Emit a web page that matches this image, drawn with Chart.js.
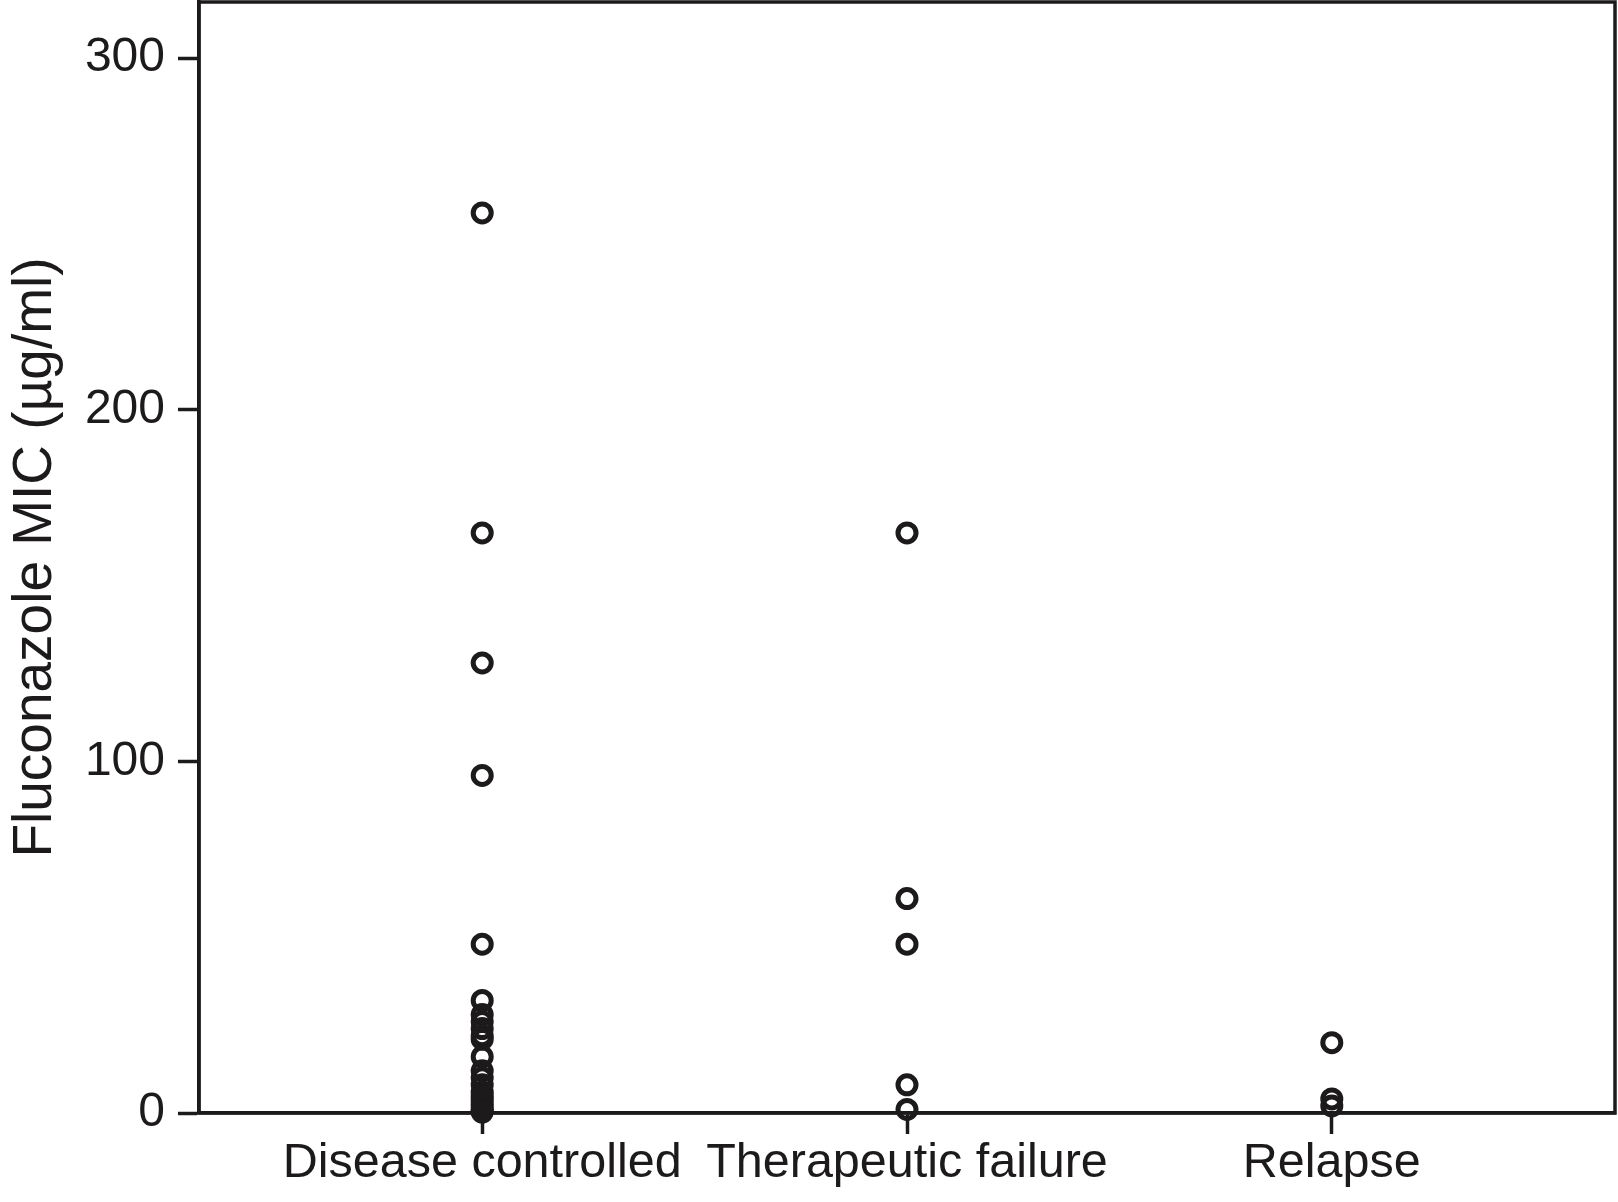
<!DOCTYPE html>
<html>
<head>
<meta charset="utf-8">
<script src="https://cdn.jsdelivr.net/npm/chart.js@4/dist/chart.umd.min.js"></script>
<style>
  html, body { margin: 0; padding: 0; background: #fff; }
  #wrap { width: 1618px; height: 1202px; }
</style>
</head>
<body>
<div id="wrap"><canvas id="mic" width="1618" height="1202"></canvas></div>
<script>
// categories and MIC values
const categories = ['Disease controlled', 'Therapeutic failure', 'Relapse'];
const diseaseControlled = [256, 165, 128, 96, 48, 32, 28, 26, 24, 22, 21, 16, 12, 10, 8, 6, 5, 4, 3, 2, 1, 0.5, 0.25];
const therapeuticFailure = [165, 61, 48, 8, 1];
const relapse = [20, 4, 2];
const yTicks = [0, 100, 200, 300];

const ink = '#1c1a1b';
const fontFam = '"Liberation Sans", Arial, Helvetica, sans-serif';

let points = [];
[diseaseControlled, therapeuticFailure, relapse].forEach((vals, i) => {
    for (let v of vals) points.push({x: i + 1, y: v});
});

// draws top and right edge of the frame
const frame = {
    id: 'frame',
    afterDraw(chart) {
        const a = chart.chartArea;
        const ctx = chart.ctx;
        ctx.save();
        ctx.strokeStyle = ink;
        ctx.lineWidth = 3.5;
        ctx.strokeRect(a.left, a.top, a.right - a.left, a.bottom - a.top);
        ctx.restore();
    }
};

// chart.js reserves room for edge labels, not wanted here
function noEdgePad(s) {
    s.paddingTop = 0;
    s.paddingBottom = 0;
    s.paddingLeft = 0;
    s.paddingRight = 0;
}

new Chart(document.getElementById('mic'), {
    type: 'scatter',
    data: {
        datasets: [{
            data: points,
            clip: false
        }]
    },
    options: {
        responsive: false,
        devicePixelRatio: 1,
        animation: false,
        layout: { autoPadding: false, padding: { top: 2, right: 3, left: 0, bottom: 0 } },
        elements: {
            point: {
                pointStyle: 'circle',
                radius: 9,
                borderWidth: 5,
                backgroundColor: 'rgba(0,0,0,0)',
                borderColor: ink
            }
        },
        plugins: { legend: { display: false }, tooltip: { enabled: false } },
        scales: {
            x: {
                type: 'linear',
                min: 1 / 3,
                max: 11 / 3,
                afterBuildTicks: axis => { axis.ticks = [1, 2, 3].map(v => ({value: v})); },
                afterFit: s => { s.height = 89; noEdgePad(s); },
                ticks: {
                    callback: v => categories[v - 1],
                    font: { family: fontFam, size: 48.5 },
                    color: ink,
                    padding: 1,
                    maxRotation: 0
                },
                grid: { drawOnChartArea: false, tickLength: 21, tickWidth: 3.5, tickColor: ink },
                border: { display: true, width: 3.5, color: ink }
            },
            y: {
                min: 0,
                max: 316,
                afterBuildTicks: axis => { axis.ticks = yTicks.map(v => ({value: v})); },
                afterFit: s => { s.width = 199; noEdgePad(s); },
                ticks: {
                    font: { family: fontFam, size: 48 },
                    color: ink,
                    padding: 13
                },
                grid: { drawOnChartArea: false, tickLength: 21, tickWidth: 3.5, tickColor: ink },
                border: { display: true, width: 3.5, color: ink },
                title: {
                    display: true,
                    text: 'Fluconazole MIC (µg/ml)',
                    font: { family: fontFam, size: 55 },
                    color: ink,
                    padding: { top: 3, bottom: 0 }
                }
            }
        }
    },
    plugins: [frame]
});
</script>
</body>
</html>
